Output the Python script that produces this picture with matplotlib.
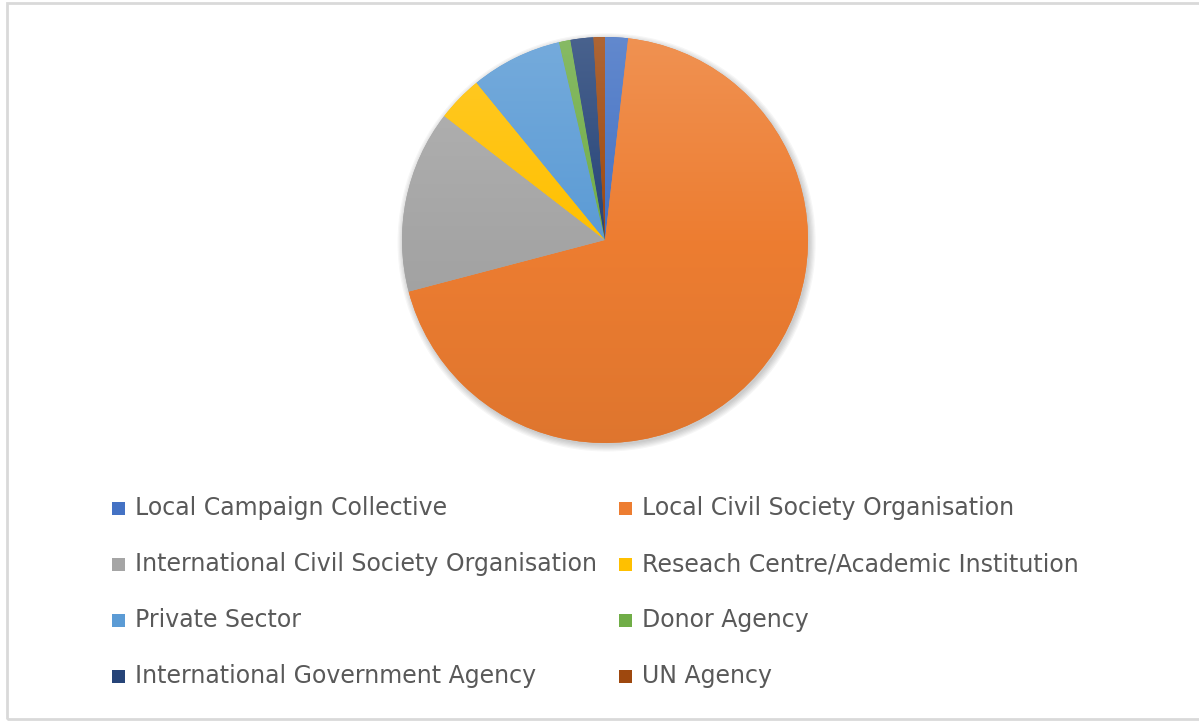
import numpy as np
import matplotlib.pyplot as plt
from matplotlib.colors import LinearSegmentedColormap, to_rgb
from matplotlib.patches import Rectangle, Circle

labels = ['Local Campaign Collective', 'Local Civil Society Organisation',
          'International Civil Society Organisation', 'Reseach Centre/Academic Institution',
          'Private Sector', 'Donor Agency', 'International Government Agency', 'UN Agency']
counts = [2, 76, 16, 4, 8, 1, 2, 1]
colors = ['#4472C4', '#ED7D31', '#A5A5A5', '#FFC000', '#5B9BD5', '#70AD47', '#264478', '#9E480E']

W, H = 1199, 721
fig = plt.figure(figsize=(W / 100, H / 100), dpi=100)
fig.patch.set_facecolor('white')

# chart border (right side runs off the image)
fig.patches.append(Rectangle((6.5 / W, 2 / H), 1200 / W, 716.5 / H, transform=fig.transFigure,
                             fill=False, edgecolor='#D9D9D9', linewidth=2))

cx, cy, r = 605, 240, 203
lim = 1.05
half = r * lim
ax = fig.add_axes([(cx - half) / W, (H - cy - half) / H, 2 * half / W, 2 * half / H])

# soft shadow
for k in range(6):
    ax.add_patch(Circle((0.008, -0.012), 1.0 + 0.006 * k, facecolor='#000000',
                        alpha=0.035, edgecolor='none', zorder=0))

wedges, _ = ax.pie(counts, colors=colors, startangle=90, counterclock=False, radius=1,
                   wedgeprops=dict(linewidth=0))

# vertical gradient in each slice, lighter at top
grad = np.linspace(0, 1, 256).reshape(-1, 1)
for w, c in zip(wedges, colors):
    base = np.array(to_rgb(c))
    top = base + (1 - base) * 0.16
    bot = base * 0.94
    cmap = LinearSegmentedColormap.from_list('g', [bot, base, top])
    im = ax.imshow(grad, cmap=cmap, extent=[-1, 1, -1, 1], origin='lower',
                   aspect='auto', zorder=2)
    im.set_clip_path(w)
ax.set_xlim(-lim, lim)
ax.set_ylim(-lim, lim)
ax.set_aspect('equal')
ax.axis('off')

# legend, two columns
col_x = [112, 619]
row_y = [508, 564, 620, 676]
for i, (lab, c) in enumerate(zip(labels, colors)):
    x = col_x[i % 2]
    y = row_y[i // 2]
    fig.patches.append(Rectangle((x / W, (H - y - 6.5) / H), 13 / W, 13 / H,
                                 transform=fig.transFigure, facecolor=c, edgecolor='none'))
    fig.text((x + 23) / W, (H - y) / H, lab, fontsize=17, color='#595959',
             va='center', ha='left')

fig.savefig('out.png', dpi=100)
